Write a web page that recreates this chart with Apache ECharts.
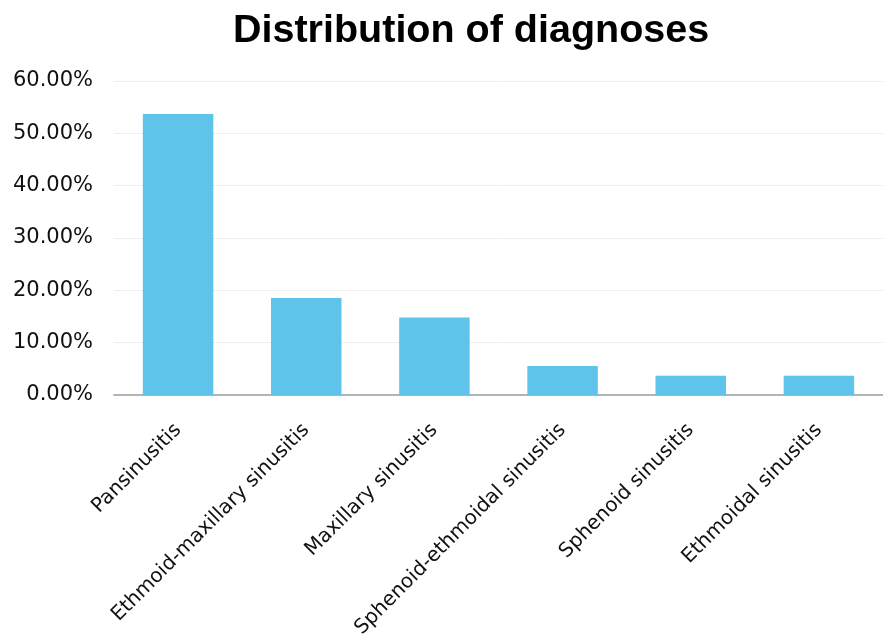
<!DOCTYPE html>
<html>
<head>
<meta charset="utf-8">
<script src="https://cdn.jsdelivr.net/npm/echarts@6/dist/echarts.min.js"></script>
<style>
  html, body { margin: 0; padding: 0; background: #fff; }
  #chart { width: 883px; height: 637px; }
</style>
</head>
<body>
<div id="chart"></div>
<script>
// diagnoses and their share (%)
var diagnoses = ['Pansinusitis', 'Ethmoid-maxillary sinusitis', 'Maxillary sinusitis',
  'Sphenoid-ethmoidal sinusitis', 'Sphenoid sinusitis', 'Ethmoidal sinusitis'];
var shares = [53.7, 18.52, 14.81, 5.56, 3.7, 3.7];

var chart = echarts.init(document.getElementById('chart'));
chart.setOption({
  animation: false,
  title: {
    text: 'Distribution of diagnoses',
    left: 228,
    top: 6,
    textStyle: { fontFamily: 'Liberation Sans', fontWeight: 'bold', fontSize: 39.5, color: '#000' }
  },
  grid: { left: 114, right: 0, top: 81, bottom: 242, outerBoundsMode: 'none' },
  xAxis: {
    type: 'category',
    data: diagnoses,
    axisLine: { lineStyle: { color: '#b4b4b4', width: 2 } },
    axisTick: { show: false },
    axisLabel: {
      rotate: 45, interval: 0, margin: 32,
      fontFamily: 'DejaVu Sans', fontSize: 20, color: '#111'
    }
  },
  yAxis: {
    type: 'value',
    min: 0, max: 60, interval: 10,
    axisLine: { show: false },
    axisTick: { show: false },
    splitLine: { lineStyle: { color: '#eeeeee', width: 1 } },
    axisLabel: {
      margin: 21, fontFamily: 'DejaVu Sans', fontSize: 21, color: '#111',
      formatter: function (v) { return v.toFixed(2) + '%'; }
    }
  },
  series: [{
    type: 'bar',
    data: shares,
    barWidth: '55%',
    itemStyle: { color: '#5ec4ea' }
  }]
});
</script>
</body>
</html>
